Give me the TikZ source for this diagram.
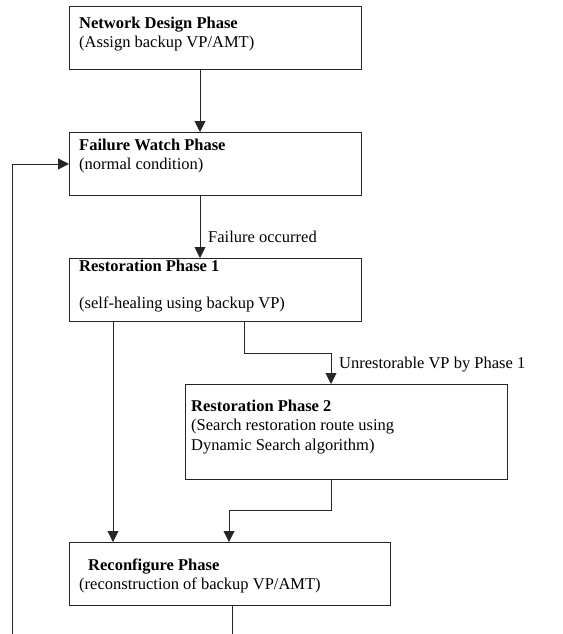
\documentclass[tikz,border=0pt]{standalone}
\usepackage{fontspec}
\setmainfont{Liberation Serif}
\usetikzlibrary{arrows.meta}
\begin{document}
\begin{tikzpicture}[x=1pt,y=-1pt,
  box/.style={draw=black!85, line width=0.9pt, rectangle, inner sep=0pt, anchor=north west},
  txt/.style={anchor=base west, inner sep=0pt, font=\fontsize{16.5}{19}\selectfont},
  ttl/.style={anchor=base west, inner sep=0pt, font=\fontsize{16.5}{19}\selectfont\bfseries},
  arr/.style={draw=black!85, line width=0.9pt, -{Triangle[length=11pt,width=11pt]}},
  plain/.style={draw=black!85, line width=0.9pt}]
\useasboundingbox (0,0) rectangle (562,634);
\clip (0,0) rectangle (562,634);

% phase boxes
\node[box, minimum width=292pt, minimum height=63pt] (design) at (69,6) {};
\node[box, minimum width=292pt, minimum height=63pt] (watch)  at (69,132) {};
\node[box, minimum width=292pt, minimum height=63pt] (rest1)  at (69,258) {};
\node[box, minimum width=322pt, minimum height=95pt] (rest2)  at (185,384) {};
\node[box, minimum width=321pt, minimum height=63pt] (reconf) at (69,542) {};

% box texts
\node[ttl] (designT) at (79,29)  {Network Design Phase};
\node[txt] (designS) at (79,48)  {(Assign backup VP/AMT)};
\node[ttl] (watchT)  at (79,150) {Failure Watch Phase};
\node[txt] (watchS)  at (79,169) {(normal condition)};
\node[ttl] (rest1T)  at (79,271) {Restoration Phase 1};
\node[txt] (rest1S)  at (79,308) {(self-healing using backup VP)};
\node[ttl] (rest2T)  at (191,411) {Restoration Phase 2};
\node[txt] (rest2S)  at (191,430) {(Search restoration route using};
\node[txt] (rest2U)  at (191,450) {Dynamic Search algorithm)};
\node[ttl] (reconfT) at (88,570) {Reconfigure Phase};
\node[txt] (reconfS) at (79,589) {(reconstruction of backup VP/AMT)};

% bend points
\coordinate (k1) at (331,353);
\coordinate (k2) at (229,510);
\coordinate (k3) at (232,660);
\coordinate (k4) at (12,660);

% connectors
\draw[arr] (design.south -| 200,0) -- (watch.north -| 200,0);
\draw[arr] (watch.south -| 200,0) -- (rest1.north -| 200,0);
\node[txt] (failLbl) at (208,242) {Failure occurred};
\draw[arr] (rest1.south -| 244,0) |- (k1) -- (rest2.north -| k1);
\node[txt] (unrLbl) at (339,368) {Unrestorable VP by Phase 1};
\draw[arr] (rest1.south -| 113,0) -- (reconf.north -| 113,0);
\draw[arr] (rest2.south -| k1) |- (k2) -- (reconf.north -| k2);
\draw[arr] (reconf.south -| k3) -- (k3) -- (k4) |- (watch.west);
\end{tikzpicture}
\end{document}
